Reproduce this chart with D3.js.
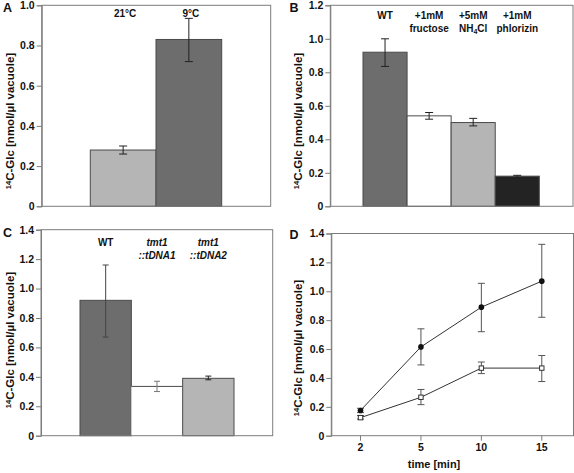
<!DOCTYPE html>
<html>
<head>
<meta charset="utf-8">
<script src="https://cdn.jsdelivr.net/npm/d3@7"></script>
<style>
  html, body { margin: 0; padding: 0; background: #fff; }
  svg { display: block; }
  text { font-family: "Liberation Sans", Arial, sans-serif; font-weight: bold; fill: #111; }
</style>
</head>
<body>
<svg id="chart" width="574" height="473"></svg>
<script>
// ---------- DATA ----------
const aCategories = [["21°C"], ["9°C"]];
const aValues = [0.28, 0.83];
const aErrLow = [0.26, 0.72];
const aErrHigh = [0.30, 0.935];
const aTicks = [0, 0.2, 0.4, 0.6, 0.8, 1.0];

const bCategories = [["WT"], ["+1mM", "fructose"], ["+5mM", "NH4Cl"], ["+1mM", "phlorizin"]];
const bValues = [0.92, 0.54, 0.50, 0.18];
const bErrLow = [0.835, 0.52, 0.48, 0.17];
const bErrHigh = [1.0, 0.56, 0.525, 0.185];
const bTicks = [0, 0.2, 0.4, 0.6, 0.8, 1.0, 1.2];

const cCategories = [["WT"], ["tmt1", "::tDNA1"], ["tmt1", "::tDNA2"]];
const cValues = [0.92, 0.335, 0.39];
const cErrLow = [0.67, 0.30, 0.38];
const cErrHigh = [1.16, 0.37, 0.405];
const cTicks = [0, 0.2, 0.4, 0.6, 0.8, 1.0, 1.2, 1.4];

const dTimes = ["2", "5", "10", "15"];
const dWT = [0.175, 0.615, 0.89, 1.07];
const dWTLow = [0.16, 0.49, 0.72, 0.82];
const dWTHigh = [0.19, 0.74, 1.055, 1.325];
const dMut = [0.125, 0.266, 0.468, 0.468];
const dMutLow = [0.115, 0.215, 0.43, 0.375];
const dMutHigh = [0.14, 0.32, 0.51, 0.555];
const dTicks = [0, 0.2, 0.4, 0.6, 0.8, 1.0, 1.2, 1.4];

// ---------- STYLE ----------
const DARK = "#6d6d6d", LIGHT = "#b5b5b5", BLACK = "#232323", WHITE = "#ffffff";
const FRAME = "#7c7c7c";
const TICK_FS = "10.5px", CAT_FS = "10px", YLAB_FS = "11.5px";
const svg = d3.select("#chart");
const fmt = d => d === 0 ? "0" : d3.format(".1f")(d);

function styleTickText(sel) {
  sel.style("font-size", TICK_FS).style("font-family", '"Liberation Sans", Arial, sans-serif')
    .style("font-weight", "bold").attr("fill", "#111");
}

function frameAndAxis(g, x0, x1, y, ticks) {
  g.append("rect").attr("x", x0).attr("y", y.range()[1]).attr("width", x1 - x0)
    .attr("height", y.range()[0] - y.range()[1]).attr("fill", "none")
    .attr("stroke", FRAME).attr("stroke-width", 1);
  const ax = g.append("g").attr("transform", `translate(${x0},0)`)
    .call(d3.axisLeft(y).tickValues(ticks).tickFormat(fmt).tickSize(5).tickPadding(2));
  ax.select(".domain").attr("stroke", FRAME);
  ax.selectAll(".tick line").attr("stroke", FRAME);
  styleTickText(ax.selectAll(".tick text"));
}

function yLabel(g, x, cy) {
  const t = g.append("text").attr("transform", `translate(${x},${cy}) rotate(-90)`)
    .attr("text-anchor", "middle").style("font-size", YLAB_FS);
  t.append("tspan").text("14").style("font-size", "7.5px").attr("dy", "-3.5");
  t.append("tspan").text("C-Glc [nmol/µl vacuole]").attr("dy", "3.5");
}

function panelLetter(g, letter, x, y) {
  g.append("text").attr("x", x).attr("y", y).text(letter).style("font-size", "12.5px");
}

function catLabel(g, lines, cx, y0, lineH, italic) {
  lines.forEach((ln, i) => {
    const t = g.append("text").attr("x", cx).attr("y", y0 + i * lineH)
      .attr("text-anchor", "middle").style("font-size", CAT_FS)
      .style("font-style", italic ? "italic" : "normal");
    if (ln === "NH4Cl") {
      t.append("tspan").text("NH");
      t.append("tspan").text("4").style("font-size", "7px").attr("dy", "2");
      t.append("tspan").text("Cl").attr("dy", "-2");
    } else {
      t.text(ln);
    }
  });
}

function errBar(g, cx, lo, hi, y, cap, color) {
  g.append("line").attr("x1", cx).attr("x2", cx).attr("y1", y(lo)).attr("y2", y(hi))
    .attr("stroke", color).attr("stroke-width", 1);
  [lo, hi].forEach(v => g.append("line").attr("x1", cx - cap / 2).attr("x2", cx + cap / 2)
    .attr("y1", y(v)).attr("y2", y(v)).attr("stroke", color).attr("stroke-width", 1));
}

function barPanel(opt) {
  const g = svg.append("g");
  const y = d3.scaleLinear().domain([0, opt.ymax]).range([opt.y1, opt.y0]);
  const x = d3.scaleBand().domain(d3.range(opt.values.length)).range(opt.barRange).padding(0);
  opt.values.forEach((v, i) => {
    const open = opt.noStroke && opt.noStroke[i];
    g.append("rect").attr("x", x(i)).attr("y", y(v)).attr("width", x.bandwidth())
      .attr("height", y(0) - y(v)).attr("fill", opt.colors[i])
      .attr("stroke", open ? "none" : "#4a4a4a").attr("stroke-width", 1);
    if (open) {
      g.append("line").attr("x1", x(i)).attr("x2", x(i) + x.bandwidth())
        .attr("y1", y(v)).attr("y2", y(v)).attr("stroke", "#4a4a4a");
    }
  });
  frameAndAxis(g, opt.x0, opt.x1, y, opt.ticks);
  opt.values.forEach((v, i) => {
    errBar(g, x(i) + x.bandwidth() / 2, opt.lo[i], opt.hi[i], y, opt.cap, opt.errColors ? opt.errColors[i] : "#222");
  });
  opt.cats.forEach((c, i) => catLabel(g, c, x(i) + x.bandwidth() / 2 + (opt.labelShift || 0), opt.labelY, opt.lineH, opt.italic && i > 0));
  yLabel(g, opt.yLabX, opt.yLabCY);
  panelLetter(g, opt.letter, opt.letterX, opt.letterY);
}

// Panel A
barPanel({
  letter: "A", letterX: 3, letterY: 12,
  x0: 41.7, x1: 270.7, y0: 5.3, y1: 206.3, ymax: 1.0, ticks: aTicks,
  barRange: [90.3, 221.7], values: aValues, lo: aErrLow, hi: aErrHigh, labelShift: 2,
  colors: [LIGHT, DARK], cats: aCategories, labelY: 17, lineH: 13, cap: 8,
  yLabX: 14, yLabCY: 121
});

// Panel B
barPanel({
  letter: "B", letterX: 289.5, letterY: 12,
  x0: 330.3, x1: 573, y0: 5.3, y1: 206.3, ymax: 1.2, ticks: bTicks,
  barRange: [363, 539.3], values: bValues, lo: bErrLow, hi: bErrHigh,
  colors: [DARK, WHITE, LIGHT, BLACK], cats: bCategories, labelY: 18.5, lineH: 13.5, cap: 8,
  yLabX: 302, yLabCY: 121
});

// Panel C
barPanel({
  letter: "C", letterX: 3, letterY: 237,
  x0: 41, x1: 272.7, y0: 229.7, y1: 435.7, ymax: 1.4, ticks: cTicks,
  barRange: [80, 234], values: cValues, lo: cErrLow, hi: cErrHigh,
  colors: [DARK, WHITE, LIGHT], noStroke: [false, true, false],
  errColors: ["#444", "#777", "#222"],
  cats: cCategories, labelY: 246, lineH: 12.5, cap: 6, italic: true,
  yLabX: 14, yLabCY: 340
});

// Panel D
(function () {
  const g = svg.append("g");
  const x0 = 331.3, x1 = 573.5, yTop = 233.5, yBot = 435.7;
  const y = d3.scaleLinear().domain([0, 1.4]).range([yBot, yTop]);
  const x = d3.scaleBand().domain(dTimes).range([x0 - 1, x1 - 1.5]).padding(0);
  const cx = t => x(t) + x.bandwidth() / 2;
  frameAndAxis(g, x0, x1, y, dTicks);
  const xa = g.append("g").attr("transform", `translate(0,${yBot})`)
    .call(d3.axisBottom(x).tickSize(5).tickPadding(3));
  xa.select(".domain").remove();
  xa.selectAll(".tick line").attr("stroke", FRAME);
  styleTickText(xa.selectAll(".tick text"));
  const line = d3.line().x((d, i) => cx(dTimes[i])).y(d => y(d));
  dTimes.forEach((t, i) => {
    errBar(g, cx(t), dWTLow[i], dWTHigh[i], y, 7, "#555");
    errBar(g, cx(t), dMutLow[i], dMutHigh[i], y, 7, "#555");
  });
  g.append("path").datum(dWT).attr("d", line).attr("fill", "none").attr("stroke", "#333").attr("stroke-width", 1);
  g.append("path").datum(dMut).attr("d", line).attr("fill", "none").attr("stroke", "#333").attr("stroke-width", 1);
  g.selectAll(".wt").data(dWT).enter().append("circle")
    .attr("cx", (d, i) => cx(dTimes[i])).attr("cy", d => y(d)).attr("r", 2.8).attr("fill", "#111");
  g.selectAll(".mut").data(dMut).enter().append("rect")
    .attr("x", (d, i) => cx(dTimes[i]) - 2.2).attr("y", d => y(d) - 2.2)
    .attr("width", 4.4).attr("height", 4.4).attr("fill", "#fff").attr("stroke", "#333").attr("stroke-width", 1);
  g.append("text").attr("x", 434).attr("y", 467.5).attr("text-anchor", "middle")
    .style("font-size", "11px").text("time [min]");
  yLabel(g, 302, 348);
  panelLetter(g, "D", 289.5, 239);
})();
</script>
</body>
</html>
